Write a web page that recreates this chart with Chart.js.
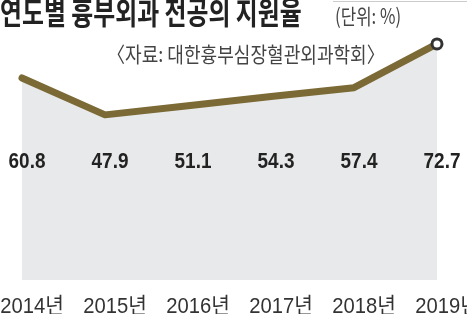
<!DOCTYPE html>
<html>
<head>
<meta charset="utf-8">
<script src="https://cdn.jsdelivr.net/npm/chart.js@4"></script>
<style>
    html, body { margin: 0; padding: 0; background: #fff; }
    #wrap { position: relative; width: 467px; height: 314px; overflow: hidden; }
    #chart { position: absolute; left: 0; top: 0; }
    .txt { position: absolute; white-space: nowrap; font-family: "Noto Sans CJK KR", sans-serif; transform-origin: left top; }
    #title { left: 0; top: -5px; font-size: 31px; line-height: 31px; font-weight: 700; color: #222; transform: scaleX(0.77); }
    #unit { left: 335px; top: 3px; font-size: 21px; line-height: 24px; color: #444; transform: scaleX(0.8); }
    #source { left: 107px; top: 41px; font-size: 21px; line-height: 24px; color: #444; transform: scaleX(0.86); }
    #topline { position: absolute; left: 333px; top: 1px; width: 134px; height: 1px; background: #ccc; }
</style>
</head>
<body>
<div id="wrap">
    <canvas id="chart" width="467" height="314"></canvas>
    <div id="topline"></div>
    <div class="txt" id="title">연도별 흉부외과 전공의 지원율</div>
    <div class="txt" id="unit">(단위: %)</div>
    <div class="txt" id="source">〈자료: 대한흉부심장혈관외과학회〉</div>
</div>
<script>
// 연도별 흉부외과 전공의 지원율 (%)
const years = ['2014년', '2015년', '2016년', '2017년', '2018년', '2019년'];
const rates = [60.8, 47.9, 51.1, 54.3, 57.4, 72.7];

// 좁은 글꼴 흉내: 가로로 눌러서 그림
function narrowText(ctx, text, x, y, sx) {
    ctx.save();
    ctx.translate(x, y);
    ctx.scale(sx, 1);
    ctx.fillText(text, 0, 0);
    ctx.restore();
}

// 값과 연도 라벨을 직접 그리는 플러그인
const labelPlugin = {
    id: 'labels',
    afterDatasetsDraw(chart) {
        const ctx = chart.ctx;
        const meta = chart.getDatasetMeta(0);
        ctx.save();
        ctx.textAlign = 'center';
        ctx.textBaseline = 'alphabetic';
        meta.data.forEach((pt, i) => {
            ctx.fillStyle = '#222';
            ctx.font = 'bold 22px "Liberation Sans", "Noto Sans CJK KR", sans-serif';
            narrowText(ctx, rates[i].toFixed(1), pt.x + 5, 168, 0.86);
            ctx.fillStyle = '#333';
            ctx.font = '22px "Liberation Sans", "Noto Sans CJK KR", sans-serif';
            narrowText(ctx, years[i], pt.x + 10, 313, 0.92);
        });
        ctx.restore();
    }
};

const last = rates.length - 1;

new Chart(document.getElementById('chart').getContext('2d'), {
    type: 'line',
    data: {
        labels: years,
        datasets: [{
            data: rates,
            borderColor: '#7b6a35',
            borderWidth: 7,
            borderCapStyle: 'round',
            borderJoinStyle: 'round',
            backgroundColor: '#e8e9ea',
            fill: 'start',
            tension: 0,
            pointRadius: c => c.dataIndex === last ? 5 : 0,
            pointBorderWidth: 3,
            pointBorderColor: '#333',
            pointBackgroundColor: '#fff'
        }]
    },
    options: {
        responsive: false,
        animation: false,
        layout: { padding: { left: 22, right: 30, top: 23, bottom: 34 } },
        scales: {
            x: { display: false, offset: false },
            y: { display: false, min: -9.8, max: 80 }
        },
        plugins: {
            legend: { display: false },
            tooltip: { enabled: false }
        }
    },
    plugins: [labelPlugin]
});
</script>
</body>
</html>
